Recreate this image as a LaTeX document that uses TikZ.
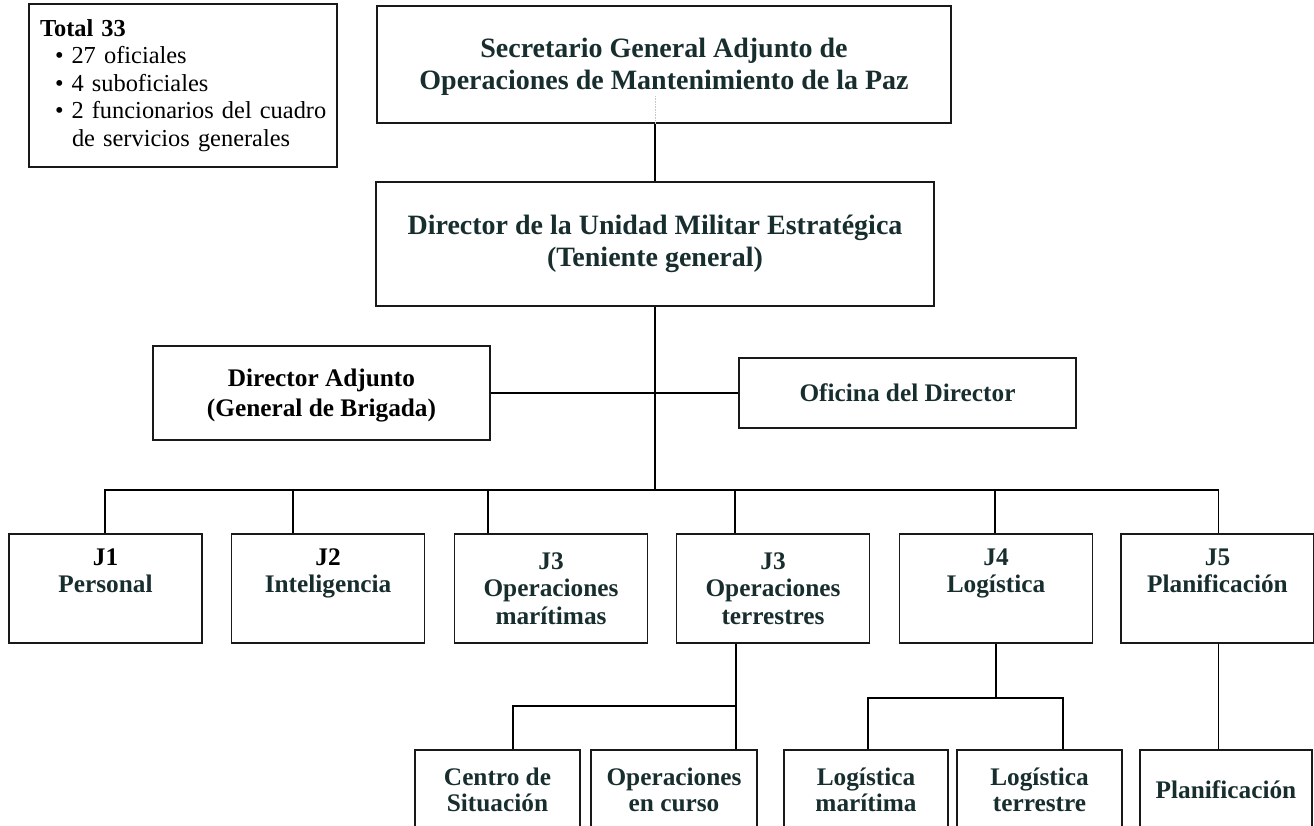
\documentclass[tikz,border=0pt]{standalone}
\usepackage{fontspec}
\setmainfont{Liberation Serif}
\definecolor{ink}{RGB}{24,46,46}

\begin{document}
\begin{tikzpicture}[x=1pt,y=-1pt,
    box/.style={draw=black!90, line width=1.5pt, align=center, inner sep=0pt, text=ink},
    headbox/.style={box, font=\fontsize{28}{31.5}\selectfont\bfseries},
    midbox/.style={box, font=\fontsize{25.3}{30}\selectfont\bfseries, minimum width=337pt},
    unitbox/.style={box, font=\fontsize{25.3}{27.5}\selectfont\bfseries, minimum width=193pt, minimum height=109pt},
    subbox/.style={box, font=\fontsize{25.3}{26.5}\selectfont\bfseries, minimum height=80pt},
    link/.style={line width=1.5pt}]

% fix the page to the size of the picture
    \useasboundingbox (0,0) rectangle (1314,826);
    \clip (0,0) rectangle (1314,826);

% staff numbers
    \node[draw=black!90, line width=1.5pt, minimum width=308pt, minimum height=163pt,
          text width=286pt, align=left, inner sep=0pt,
          font=\fontsize{24.4}{27.5}\selectfont] (total) at (183,85.5)
        {\textbf{Total 33}\\
         \mbox{\hspace*{15pt}\textbullet\hspace{8pt}27 oficiales}\\
         \mbox{\hspace*{15pt}\textbullet\hspace{8pt}4 suboficiales}\\
         \mbox{\hspace*{15pt}\textbullet\hspace{8pt}2 funcionarios del cuadro}\\
         \mbox{\hspace*{32pt}de servicios generales}};

% head of the chart
    \node[headbox, minimum width=574pt, minimum height=117pt] (sgadj) at (664,64.5)
        {\rule{0pt}{24pt}Secretario General Adjunto de\\Operaciones de Mantenimiento de la Paz};
    \node[headbox, minimum width=558pt, minimum height=124pt] (dir) at (655,244)
        {Director de la Unidad Militar Estratégica\\(Teniente general)};

% deputy and office
    \node[midbox, minimum height=94pt, text=black] (diradj) at (321.5,393)
        {\rule{0pt}{22pt}Director Adjunto\\(General de Brigada)};
    \node[midbox, minimum height=70pt] (oficina) at (907.5,393) {Oficina del Director};

% J sections
    \node[unitbox] (j1) at (105.5,588.5) {\textcolor{black}{J1}\\Personal\\\strut};
    \node[unitbox] (j2) at (328,588.5) {\textcolor{black}{J2}\\Inteligencia\\\strut};
    \node[unitbox] (j3m) at (551,588.5) {J3\\Operaciones\\marítimas};
    \node[unitbox] (j3t) at (773,588.5) {J3\\Operaciones\\terrestres};
    \node[unitbox] (j4) at (996,588.5) {J4\\Logística\\\strut};
    \node[unitbox] (j5) at (1217.5,588.5) {J5\\Planificación\\\strut};

% lower cells (cut by the page edge)
    \node[subbox, minimum width=165pt] (centro) at (497.5,790) {Centro de\\Situación};
    \node[subbox, minimum width=166pt] (ocurso) at (674,790) {Operaciones\\en curso};
    \node[subbox, minimum width=164pt] (logmar) at (866,790) {Logística\\marítima};
    \node[subbox, minimum width=165pt] (logter) at (1039.5,790) {Logística\\terrestre};
    \node[subbox, minimum width=172pt] (planif) at (1226,790) {Planificación};

% top chain and trunk
    \coordinate (bus) at (656,490);
    \draw[link] (dir.north) -- (dir.north |- sgadj.south);
    \draw[densely dotted, gray!45, line width=0.6pt] (dir.north |- sgadj.south) -- ++(0,-28);
    \draw[link] (dir.south) -- (dir.south |- bus);
    \draw[link] (diradj.east) -- (oficina.west);

% drops to the J sections
    \foreach \n/\dx in {j1/96.5, j2/62, j3m/34, j3t/59, j4/96, j5/98}
        \coordinate (d\n) at ([xshift=\dx pt]\n.north west);
    \draw[link] (dj1) |- (dj5 |- bus) -- (dj5);
    \foreach \n in {j2, j3m, j3t, j4}
        \draw[link] (d\n) -- (d\n |- bus);

% J3 land operations branch
    \coordinate (tj) at (736,706);
    \coordinate (tc) at (513,706);
    \draw[link] (tj |- j3t.south) -- (tj |- ocurso.north);
    \draw[link] (tc |- centro.north) -- (tc) -- (tj);

% J4 branch
    \coordinate (lj) at (996,698);
    \coordinate (lm) at (868,698);
    \coordinate (lt) at (1063,698);
    \draw[link] (lj |- j4.south) -- (lj);
    \draw[link] (lm |- logmar.north) -- (lm) -- (lt) -- (lt |- logter.north);

% J5 branch
    \draw[link] (dj5 |- j5.south) -- (dj5 |- planif.north);

\end{tikzpicture}
\end{document}
